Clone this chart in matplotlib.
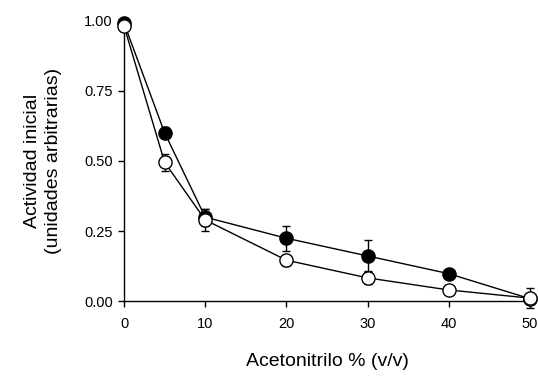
import numpy as np
import matplotlib.pyplot as plt

plt.rcParams['font.family'] = ['Liberation Sans', 'DejaVu Sans']

# Datos
acetonitrilo = [0, 5, 10, 20, 30, 40, 50]
act_llenos = [0.99, 0.60, 0.30, 0.225, 0.162, 0.099, 0.01]
err_llenos = [0.01, 0.02, 0.03, 0.045, 0.055, 0.01, 0.01]
act_vacios = [0.98, 0.495, 0.29, 0.147, 0.084, 0.041, 0.012]
err_vacios = [0.01, 0.03, 0.04, 0.02, 0.02, 0.01, 0.035]

fig = plt.figure(figsize=(5.38, 3.83), dpi=100)
ax = fig.add_axes([0.2305, 0.2128, 0.7545, 0.7342])

# serie de círculos negros
ax.errorbar(acetonitrilo, act_llenos, yerr=err_llenos, fmt='none', ecolor='black',
            elinewidth=1, capsize=3, capthick=1, zorder=2, clip_on=False)
ax.plot(acetonitrilo, act_llenos, '-o', color='black', lw=1, ms=9.5,
        mfc='black', mec='black', zorder=3, clip_on=False)

# serie de círculos blancos
ax.errorbar(acetonitrilo, act_vacios, yerr=err_vacios, fmt='none', ecolor='black',
            elinewidth=1, capsize=3, capthick=1, zorder=4, clip_on=False)
ax.plot(acetonitrilo, act_vacios, '-o', color='black', lw=1, ms=9.5,
        mfc='white', mec='black', mew=1, zorder=5, clip_on=False)

ax.set_xlim(0, 50)
ax.set_ylim(0, 1.0)
ax.set_xticks([0, 10, 20, 30, 40, 50])
ax.set_yticks([0, 0.25, 0.5, 0.75, 1.0])
ax.set_yticklabels(['0.00', '0.25', '0.50', '0.75', '1.00'])
ax.tick_params(direction='out', length=4, width=1, labelsize=10.5)
ax.tick_params(axis='x', pad=7)
ax.tick_params(axis='y', pad=4)

for s in ['top', 'right']:
    ax.spines[s].set_visible(False)
for s in ['left', 'bottom']:
    ax.spines[s].set_linewidth(1)

ax.set_xlabel('Acetonitrilo % (v/v)', fontsize=14, labelpad=16)
ax.set_ylabel('Actividad inicial\n(unidades arbitrarias)', fontsize=14,
              labelpad=16, linespacing=1.3)

plt.savefig('out.png', dpi=100)
